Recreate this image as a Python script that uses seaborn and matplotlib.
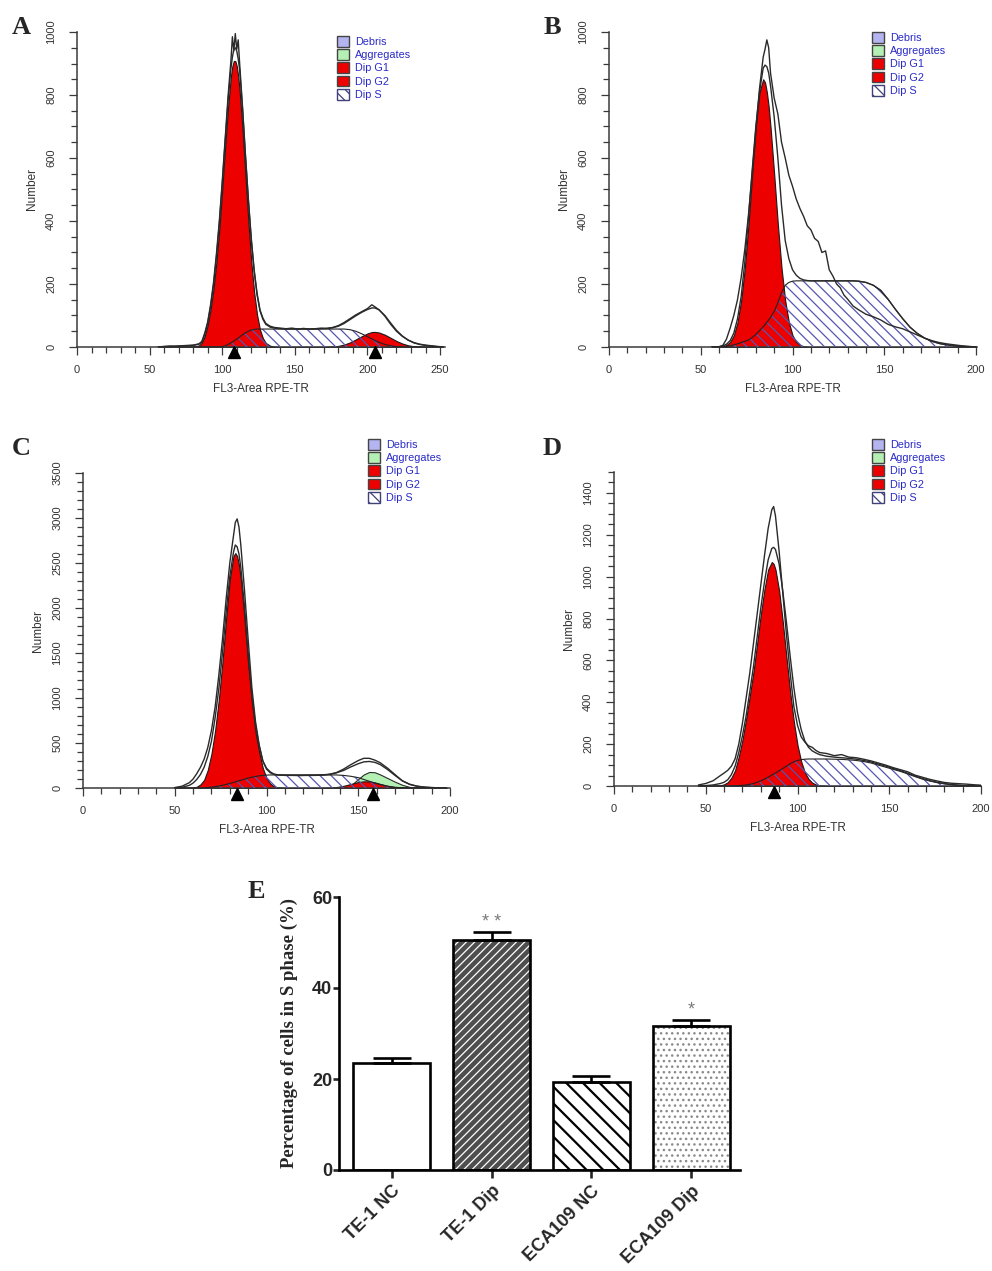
import matplotlib
matplotlib.use("Agg")
import matplotlib.pyplot as plt
from matplotlib.patches import Patch
from matplotlib.ticker import MultipleLocator
from matplotlib import transforms
import seaborn as sns

sns.set_style("ticks")
plt.rcParams['font.family'] = ['Liberation Sans', 'DejaVu Sans']
plt.rcParams['hatch.linewidth'] = 0.9

# ---------------- panel A ----------------
a_x = [56, 60, 64, 68, 72, 76, 80, 84, 86, 88, 90, 92, 94, 96, 98, 100, 102, 104,
       106, 107, 108, 109, 110, 111, 112, 114, 116, 118, 120, 122, 124, 126, 128, 130,
       133, 136, 140, 144, 148, 152, 156, 160, 164, 168, 172, 176, 180, 184, 188, 192,
       196, 200, 203, 205, 208, 212, 216, 220, 224, 228, 232, 236, 240, 244, 248, 252]
a_data = [0, 2, 3, 3, 4, 5, 6, 10, 18, 45, 80, 135, 205, 295, 400, 525, 660, 795,
          910, 985, 940, 995, 945, 975, 900, 760, 610, 470, 345, 245, 170, 118, 92, 75,
          66, 62, 60, 58, 60, 57, 59, 57, 58, 60, 59, 62, 68, 78, 90, 102,
          112, 122, 134, 128, 118, 98, 72, 50, 34, 22, 14, 9, 6, 4, 2, 0]
a_fit = [0, 1, 2, 2, 3, 4, 5, 9, 16, 40, 75, 128, 195, 285, 390, 515, 650, 780,
         885, 920, 945, 950, 940, 915, 880, 755, 605, 465, 340, 240, 165, 115, 88, 72,
         63, 60, 58, 57, 57, 57, 57, 57, 57, 58, 59, 61, 66, 75, 87, 99,
         110, 119, 124, 124, 118, 100, 76, 53, 35, 22, 13, 8, 5, 3, 1, 0]
a_g1 = [0, 0, 0, 0, 0, 0, 0.5, 5, 14, 35, 70, 120, 185, 270, 375, 500, 635, 760,
        860, 892, 908, 908, 892, 860, 813, 690, 544, 399, 272, 173, 102, 55, 28, 13,
        4, 1, 0, 0, 0, 0, 0, 0, 0, 0, 0, 0, 0, 0, 0, 0,
        0, 0, 0, 0, 0, 0, 0, 0, 0, 0, 0, 0, 0, 0, 0, 0]
a_s = [0, 0, 0, 0, 0, 0, 0, 0, 0, 0, 0, 0, 0, 0, 0, 1, 4, 8,
       13, 16, 19, 22, 25, 28, 32, 39, 45, 50, 54, 56, 57, 57, 57, 57,
       57, 57, 57, 57, 57, 57, 57, 57, 57, 57, 57, 57, 57, 57, 55, 50,
       42, 33, 26, 21, 15, 8, 4, 1, 0, 0, 0, 0, 0, 0, 0, 0]
a_g2 = [0, 0, 0, 0, 0, 0, 0, 0, 0, 0, 0, 0, 0, 0, 0, 0, 0, 0,
        0, 0, 0, 0, 0, 0, 0, 0, 0, 0, 0, 0, 0, 0, 0, 0,
        0, 0, 0, 0, 0, 0, 0, 0, 0, 0, 0.6, 1.5, 3.6, 7.8, 14.6, 24,
        34, 43, 47.5, 48, 46, 39, 29, 19, 11, 5.4, 2.4, 0.9, 0, 0, 0, 0]
a_peaks = [108, 205]

# ---------------- panel B ----------------
b_x = [56, 58, 60, 62, 64, 66, 68, 70, 72, 74, 76, 78, 80, 82, 84, 85, 86, 87,
       88, 90, 92, 94, 96, 98, 100, 102, 104, 106, 108, 110, 112, 114, 116, 118, 120,
       122, 124, 126, 128, 130, 133, 136, 140, 144, 148, 152, 156, 160, 164, 168, 172,
       176, 180, 184, 188, 192, 196, 200]
b_data = [0, 0, 1, 5, 25, 60, 100, 150, 220, 310, 420, 550, 690, 820, 920, 945, 975, 950,
          870, 790, 740, 650, 600, 545, 510, 470, 440, 415, 385, 372, 345, 335, 300, 305, 245,
          225, 200, 188, 165, 152, 130, 118, 104, 96, 86, 72, 64, 58, 48, 38, 28,
          20, 14, 10, 7, 4, 2, 0]
b_fit = [0, 0, 1, 3, 9, 20, 44, 89, 160, 270, 410, 560, 700, 810, 885, 895, 890, 870,
         830, 730, 600, 450, 338, 280, 245, 228, 218, 213, 211, 210, 210, 210, 210, 210, 210,
         210, 210, 210, 210, 210, 210, 209, 205, 196, 180, 152, 120, 90, 63, 43, 28,
         18, 11, 7, 4, 2, 1, 0]
b_g1 = [0, 0, 0.7, 2.3, 6.5, 16, 37, 78, 147, 251, 389, 548, 700, 809, 850, 840, 809, 763,
        699, 548, 389, 251, 147, 78, 37, 16, 6.5, 2.3, 0.7, 0, 0, 0, 0, 0, 0,
        0, 0, 0, 0, 0, 0, 0, 0, 0, 0, 0, 0, 0, 0, 0, 0,
        0, 0, 0, 0, 0, 0, 0]
b_s = [0, 0, 0, 0, 2, 4, 7, 10, 14, 18, 22, 30, 40, 52, 64, 71, 78, 86,
       94, 113, 140, 172, 196, 205, 209, 210, 210, 210, 210, 210, 210, 210, 210, 210, 210,
       210, 210, 210, 210, 210, 210, 209, 205, 196, 180, 152, 120, 90, 63, 43, 28,
       18, 11, 7, 4, 2, 1, 0]
b_peaks = []

# ---------------- panel C ----------------
c_x = [50, 54, 58, 60, 62, 64, 66, 68, 70, 72, 74, 76, 78, 80, 82, 83, 84, 85, 86,
       88, 90, 92, 94, 96, 98, 100, 102, 104, 106, 110, 114, 118, 122, 126, 130, 134,
       138, 142, 146, 150, 153, 156, 159, 162, 166, 170, 174, 178, 182, 186, 190, 194, 198]
c_data = [5, 20, 60, 100, 160, 230, 320, 450, 640, 900, 1250, 1650, 2100, 2500, 2800, 2950, 2990, 2900, 2700,
          2200, 1650, 1120, 740, 480, 300, 210, 170, 152, 145, 140, 140, 138, 140, 140, 142, 150,
          170, 210, 260, 305, 330, 330, 310, 280, 220, 150, 80, 40, 20, 10, 5, 2, 0]
c_fit = [2, 8, 30, 55, 95, 150, 230, 350, 520, 780, 1100, 1500, 1950, 2350, 2620, 2700, 2680, 2600, 2450,
         2020, 1500, 1040, 700, 470, 300, 220, 180, 155, 147, 143, 142, 142, 142, 143, 145, 152,
         168, 195, 235, 270, 290, 295, 285, 260, 205, 140, 80, 42, 20, 9, 4, 1, 0]
c_g1 = [0, 0, 1, 4, 14, 40, 90, 200, 380, 640, 980, 1400, 1885, 2322, 2576, 2610, 2576, 2478, 2322,
        1885, 1381, 960, 620, 400, 220, 110, 50, 20, 7, 0, 0, 0, 0, 0, 0, 0,
        0, 0, 0, 0, 0, 0, 0, 0, 0, 0, 0, 0, 0, 0, 0, 0, 0]
c_s = [0, 0, 0, 0, 0, 0, 0, 5, 10, 15, 22, 30, 40, 50, 62, 68, 74, 80, 86,
       98, 110, 120, 128, 135, 140, 143, 145, 145, 145, 145, 145, 145, 145, 145, 145, 145,
       145, 140, 130, 115, 95, 75, 55, 38, 20, 8, 3, 1, 0, 0, 0, 0, 0]
c_g2 = [0, 0, 0, 0, 0, 0, 0, 0, 0, 0, 0, 0, 0, 0, 0, 0, 0, 0, 0,
        0, 0, 0, 0, 0, 0, 0, 0, 0, 0, 0, 0, 0, 0, 0, 0, 3.3,
        10, 24, 45, 66, 74, 73, 62, 45, 24, 10, 3.3, 0.8, 0, 0, 0, 0, 0]
c_agg = [0, 0, 0, 0, 0, 0, 0, 0, 0, 0, 0, 0, 0, 0, 0, 0, 0, 0, 0,
         0, 0, 0, 0, 0, 0, 0, 0, 0, 0, 0, 0, 0, 0, 0, 0, 0,
         0, 5, 30, 100, 150, 178, 175, 150, 110, 70, 35, 12, 4, 1, 0, 0, 0]
c_peaks = [84, 158]

# ---------------- panel D ----------------
d_x = [46, 50, 54, 58, 60, 62, 64, 66, 68, 70, 72, 74, 76, 78, 80, 82, 84, 86, 87,
       88, 90, 92, 94, 96, 98, 100, 102, 104, 106, 108, 110, 112, 116, 120, 124, 128,
       132, 136, 140, 144, 148, 152, 156, 160, 164, 168, 172, 176, 180, 184, 188, 192, 196, 200]
d_data = [5, 12, 25, 50, 62, 75, 95, 130, 200, 300, 420, 540, 680, 820, 960, 1100, 1230, 1320, 1335,
          1290, 1120, 920, 720, 540, 380, 290, 235, 210, 192, 185, 170, 160, 155, 145, 150, 138,
          135, 128, 120, 110, 100, 88, 78, 68, 52, 42, 32, 24, 17, 13, 11, 9, 6, 4]
d_fit = [0, 2, 5, 12, 18, 30, 55, 95, 160, 240, 335, 450, 570, 710, 850, 975, 1080, 1135, 1140,
         1130, 1060, 930, 780, 620, 470, 350, 270, 215, 185, 168, 158, 150, 142, 138, 135, 132,
         128, 122, 115, 105, 95, 84, 73, 61, 48, 36, 26, 18, 12, 7, 4, 2, 1, 0]
d_g1 = [0, 0, 0.5, 3, 8, 18, 40, 75, 140, 220, 320, 430, 545, 680, 820, 940, 1034, 1070, 1061,
        1034, 932, 783, 615, 450, 308, 196, 117, 65, 34, 16, 7.3, 3.1, 0.4, 0, 0, 0,
        0, 0, 0, 0, 0, 0, 0, 0, 0, 0, 0, 0, 0, 0, 0, 0, 0, 0]
d_s = [0, 0, 0, 0, 0, 0, 0, 1, 2, 3, 5, 8, 12, 18, 25, 33, 42, 52, 57,
       62, 73, 84, 95, 106, 116, 122, 126, 128, 129, 129, 129, 129, 129, 128, 127, 125,
       122, 117, 110, 100, 90, 80, 70, 58, 45, 33, 24, 16, 10, 6, 3, 1, 0, 0]
d_peaks = [87]

# ---------------- panel E ----------------
groups = ['TE-1 NC', 'TE-1 Dip', 'ECA109 NC', 'ECA109 Dip']
s_phase = [23.6, 50.5, 19.4, 31.6]
s_err = [1.0, 1.7, 1.3, 1.4]
stars = ['', '* *', '', '*']

RED = '#ec0000'
AGG = '#b4f0b4'
DEBRIS = '#b4b4f0'
HATCH = '#5656b0'
LEG_TXT = '#2a2ac8'
AX_COL = '#3a3a3a'

W, H = 992, 1271
fig = plt.figure(figsize=(W / 100, H / 100), dpi=100)


def px_axes(l, t, r, b):
    return fig.add_axes([l / W, 1 - b / H, (r - l) / W, (b - t) / H])


def hist_panel(box, x, data, fit, g1, s, g2, agg, peaks, xmax, ymax, ymaj, ymin,
               leg_xy, letter, letter_xy):
    ax = px_axes(*box)
    if agg is not None:
        ax.fill_between(x, 0, agg, facecolor=AGG, edgecolor='#2a2a2a', lw=0.8, zorder=1)
    ax.fill_between(x, 0, g1, facecolor=RED, edgecolor='#1a1a1a', lw=0.8, zorder=2)
    if g2 is not None:
        ax.fill_between(x, 0, g2, facecolor=RED, edgecolor='#1a1a1a', lw=0.8, zorder=2)
    ax.fill_between(x, 0, s, facecolor='none', edgecolor=HATCH, hatch='\\\\\\', lw=0, zorder=3)
    ax.plot(x, s, color='#222222', lw=0.8, zorder=4)
    sns.lineplot(x=x, y=fit, ax=ax, color='#2a2a2a', lw=1.0, estimator=None, sort=False, zorder=5)
    sns.lineplot(x=x, y=data, ax=ax, color='#2a2a2a', lw=1.0, estimator=None, sort=False, zorder=6)
    if peaks:
        tr = transforms.offset_copy(ax.transData, fig=fig, y=-5.5, units='dots')
        ax.plot(peaks, [0] * len(peaks), ls='none', marker='^', ms=8, color='black',
                transform=tr, clip_on=False, zorder=10)

    ax.set_xlim(0, xmax)
    ax.set_ylim(0, ymax)
    ax.xaxis.set_major_locator(MultipleLocator(50))
    ax.xaxis.set_minor_locator(MultipleLocator(10))
    ax.yaxis.set_major_locator(MultipleLocator(ymaj))
    ax.yaxis.set_minor_locator(MultipleLocator(ymin))
    for sp in ['top', 'right']:
        ax.spines[sp].set_visible(False)
    for sp in ['left', 'bottom']:
        ax.spines[sp].set_color(AX_COL)
        ax.spines[sp].set_linewidth(1.1)
    ax.tick_params(which='major', length=6, width=0.9, color=AX_COL, labelsize=8,
                   labelcolor='#333333', direction='out')
    ax.tick_params(which='minor', length=4, width=0.9, color=AX_COL, direction='out')
    ax.tick_params(axis='y', which='major', pad=9, labelrotation=90)
    ax.tick_params(axis='x', which='major', pad=7)
    for lbl in ax.get_yticklabels():
        lbl.set_va('center')
    ax.set_xlabel('FL3-Area RPE-TR', fontsize=8.5, color='#333333', labelpad=6)
    ax.set_ylabel('Number', fontsize=8.5, color='#333333', labelpad=6)

    handles = [Patch(facecolor=DEBRIS, edgecolor='#444444', lw=1.0),
               Patch(facecolor=AGG, edgecolor='#444444', lw=1.0),
               Patch(facecolor=RED, edgecolor='#444444', lw=1.0),
               Patch(facecolor=RED, edgecolor='#444444', lw=1.0),
               Patch(facecolor='white', edgecolor='#40407a', hatch='\\\\\\', lw=1.0)]
    ax.legend(handles, ['Debris', 'Aggregates', 'Dip G1', 'Dip G2', 'Dip S'],
              loc='upper left', bbox_to_anchor=(leg_xy[0] / W, 1 - leg_xy[1] / H),
              bbox_transform=fig.transFigure, frameon=False, fontsize=7.8,
              handlelength=1.1, handleheight=1.15, handletextpad=0.6,
              labelspacing=0.2, borderpad=0, borderaxespad=0, labelcolor=LEG_TXT)
    fig.text(letter_xy[0] / W, 1 - letter_xy[1] / H, letter, ha='center', va='center',
             fontsize=19, fontweight='bold', family='Liberation Serif')
    return ax


hist_panel((77, 32, 445, 347), a_x, a_data, a_fit, a_g1, a_s, a_g2, None, a_peaks,
           253.4, 1000, 200, 50, (337, 36), 'A', (21, 28))
hist_panel((609, 32, 977, 347), b_x, b_data, b_fit, b_g1, b_s, None, None, b_peaks,
           200.5, 1000, 200, 50, (872, 32), 'B', (552, 28))
hist_panel((83, 473, 450, 788), c_x, c_data, c_fit, c_g1, c_s, c_g2, c_agg, c_peaks,
           200, 3500, 500, 100, (368, 439), 'C', (21, 448))
hist_panel((614, 472, 981, 786), d_x, d_data, d_fit, d_g1, d_s, None, None, d_peaks,
           200, 1500, 200, 50, (872, 439), 'D', (552, 448))

# ---------------- bar chart E ----------------
axE = px_axes(339, 897, 740, 1170)
sns.barplot(x=groups, y=s_phase, ax=axE, width=0.77, color='white', errorbar=None)
bar_faces = ['white', '#4e4e4e', 'white', 'white']
bar_hatch = [None, '////', '\\\\', '...']
bar_hcol = ['black', 'white', 'black', '#8a8a8a']
bar_hlw = [1.0, 0.9, 1.6, 1.0]
for p, fc, ht, hc, hl in zip(axE.patches, bar_faces, bar_hatch, bar_hcol, bar_hlw):
    p.set_facecolor(fc)
    p.set_edgecolor(hc)
    p.set_linewidth(0)
    if ht:
        p.set_hatch(ht)
        if hasattr(p, 'set_hatch_linewidth'):
            p.set_hatch_linewidth(hl)
axE.bar(range(len(groups)), s_phase, width=0.77, fill=False, edgecolor='black', lw=1.9, zorder=3)
axE.errorbar(range(len(groups)), s_phase, yerr=[[0] * len(groups), s_err], fmt='none',
             ecolor='black', elinewidth=1.9, capsize=13.5, capthick=1.9, zorder=2)
for i, st in enumerate(stars):
    if st:
        axE.text(i, s_phase[i] + s_err[i] + 0.3, st, ha='center', va='bottom',
                 fontsize=13, color='#7a7a7a')

axE.set_xlim(-0.53, 3.49)
axE.set_ylim(0, 60)
axE.yaxis.set_major_locator(MultipleLocator(20))
for sp in ['top', 'right']:
    axE.spines[sp].set_visible(False)
for sp in ['left', 'bottom']:
    axE.spines[sp].set_linewidth(1.9)
    axE.spines[sp].set_color('black')
axE.tick_params(axis='y', length=4, width=1.9, pad=1, labelsize=13)
axE.tick_params(axis='x', length=6, width=1.9, pad=3, labelsize=13)
for lbl in axE.get_yticklabels():
    lbl.set_fontweight('bold')
axE.set_xticks(range(len(groups)))
axE.set_xticklabels(groups, rotation=45, ha='right', rotation_mode='anchor', fontweight='bold')
axE.set_ylabel('Percentage of cells in S phase (%)', fontsize=13.5, fontweight='bold',
               family='Liberation Serif', labelpad=10)
fig.text(256 / W, 1 - 891 / H, 'E', ha='center', va='center', fontsize=19,
         fontweight='bold', family='Liberation Serif')

fig.savefig('out.png', dpi=100)
